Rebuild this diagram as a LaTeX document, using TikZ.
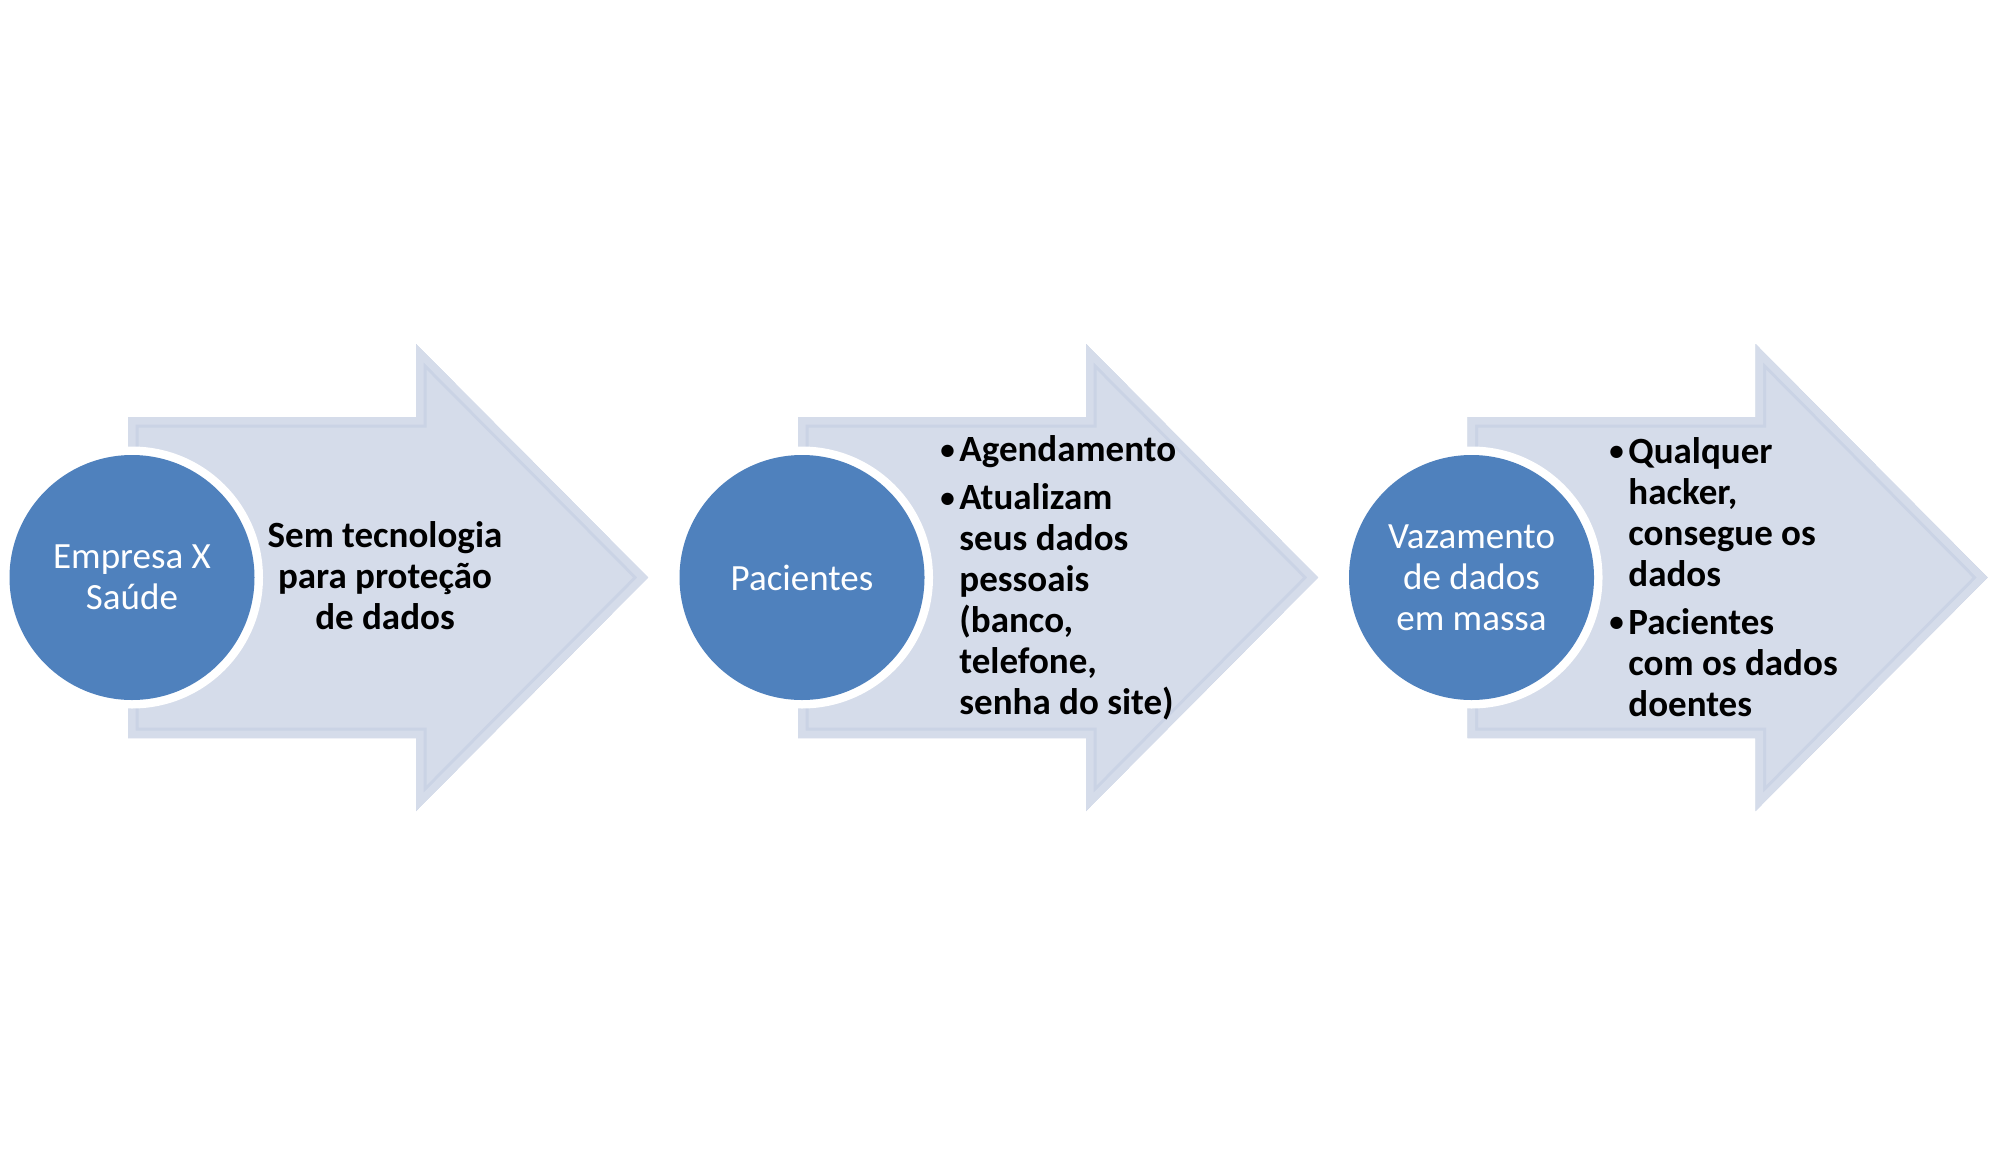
\documentclass[tikz,border=0pt]{standalone}
\usepackage{fontspec}
\setmainfont{Carlito}
\definecolor{arrowfill}{HTML}{D5DCEA}
\definecolor{arrowline}{HTML}{CAD3E5}
\definecolor{circblue}{HTML}{4F81BD}
\newcommand\bitem[1]{\par\hangindent=9.5pt\hangafter=1\noindent\makebox[9.5pt][l]{\raisebox{1.2pt}{\fontsize{14.5pt}{14.5pt}\selectfont\textbullet}}#1\par}
\tikzset{
  ringdisc/.style={circle, fill=white, minimum size=131pt, inner sep=0pt},
  bluedisc/.style={circle, fill=circblue, minimum size=122.5pt, inner sep=0pt,
    text=white, align=center, font=\fontsize{18.5pt}{20.5pt}\selectfont},
  plaintext/.style={inner sep=0pt, align=center, text=black,
    font=\fontsize{18.5pt}{20.5pt}\selectfont\bfseries},
  listtext/.style={inner sep=0pt, text width=140pt, align=flush left, text=black,
    font=\fontsize{18.5pt}{20.5pt}\selectfont\bfseries\setlength\parskip{3.5pt}},
  flowarrow/.pic={
    \path[fill=arrowfill] (-4,-160.5) -- (284,-160.5) -- (284,-233.5) -- (516,0)
      -- (284,233.5) -- (284,160.5) -- (-4,160.5) -- cycle;
    \begin{scope}
      \clip (-4,-160.5) -- (284,-160.5) -- (284,-233.5) -- (516,0)
        -- (284,233.5) -- (284,160.5) -- (-4,160.5) -- cycle;
      \draw[arrowline, line width=10.5pt, line join=miter] (-4,-160.5) -- (284,-160.5)
        -- (284,-233.5) -- (516,0) -- (284,233.5) -- (284,160.5) -- (-4,160.5) -- cycle;
      \draw[arrowfill, line width=7.5pt, line join=miter] (-4,-160.5) -- (284,-160.5)
        -- (284,-233.5) -- (516,0) -- (284,233.5) -- (284,160.5) -- (-4,160.5) -- cycle;
    \end{scope}
  }
}
\begin{document}
\begin{tikzpicture}[x=0.5pt,y=-0.5pt]
\useasboundingbox[fill=white] (0,0) rectangle (1989,1155);
% arrows
\pic at (132,577.5) {flowarrow};
\pic at (802,577.5) {flowarrow};
\pic at (1471.5,577.5) {flowarrow};
% circles
\node[ringdisc] (r1) at (132,577.5) {};
\node[bluedisc] (c1) at (132,577.5) {Empresa X\\Saúde};
\node[ringdisc] (r2) at (802,577.5) {};
\node[bluedisc] (c2) at (802,577.5) {Pacientes};
\node[ringdisc] (r3) at (1471.5,577.5) {};
\node[bluedisc] (c3) at (1471.5,577.5) {Vazamento\\de dados\\em massa};
% texts
\node[plaintext] (t1) at (385,576) {Sem tecnologia\\para proteção\\de dados};
\node[listtext, anchor=west] (t2) at (940,567) {\bitem{Agendamento}\bitem{Atualizam\newline seus dados\newline pessoais\newline (banco,\newline telefone,\newline senha do site)}};
\node[listtext, anchor=west] (t3) at (1609,566) {\bitem{Qualquer\newline hacker,\newline consegue os\newline dados}\bitem{Pacientes\newline com os dados\newline doentes}};
\end{tikzpicture}
\end{document}
